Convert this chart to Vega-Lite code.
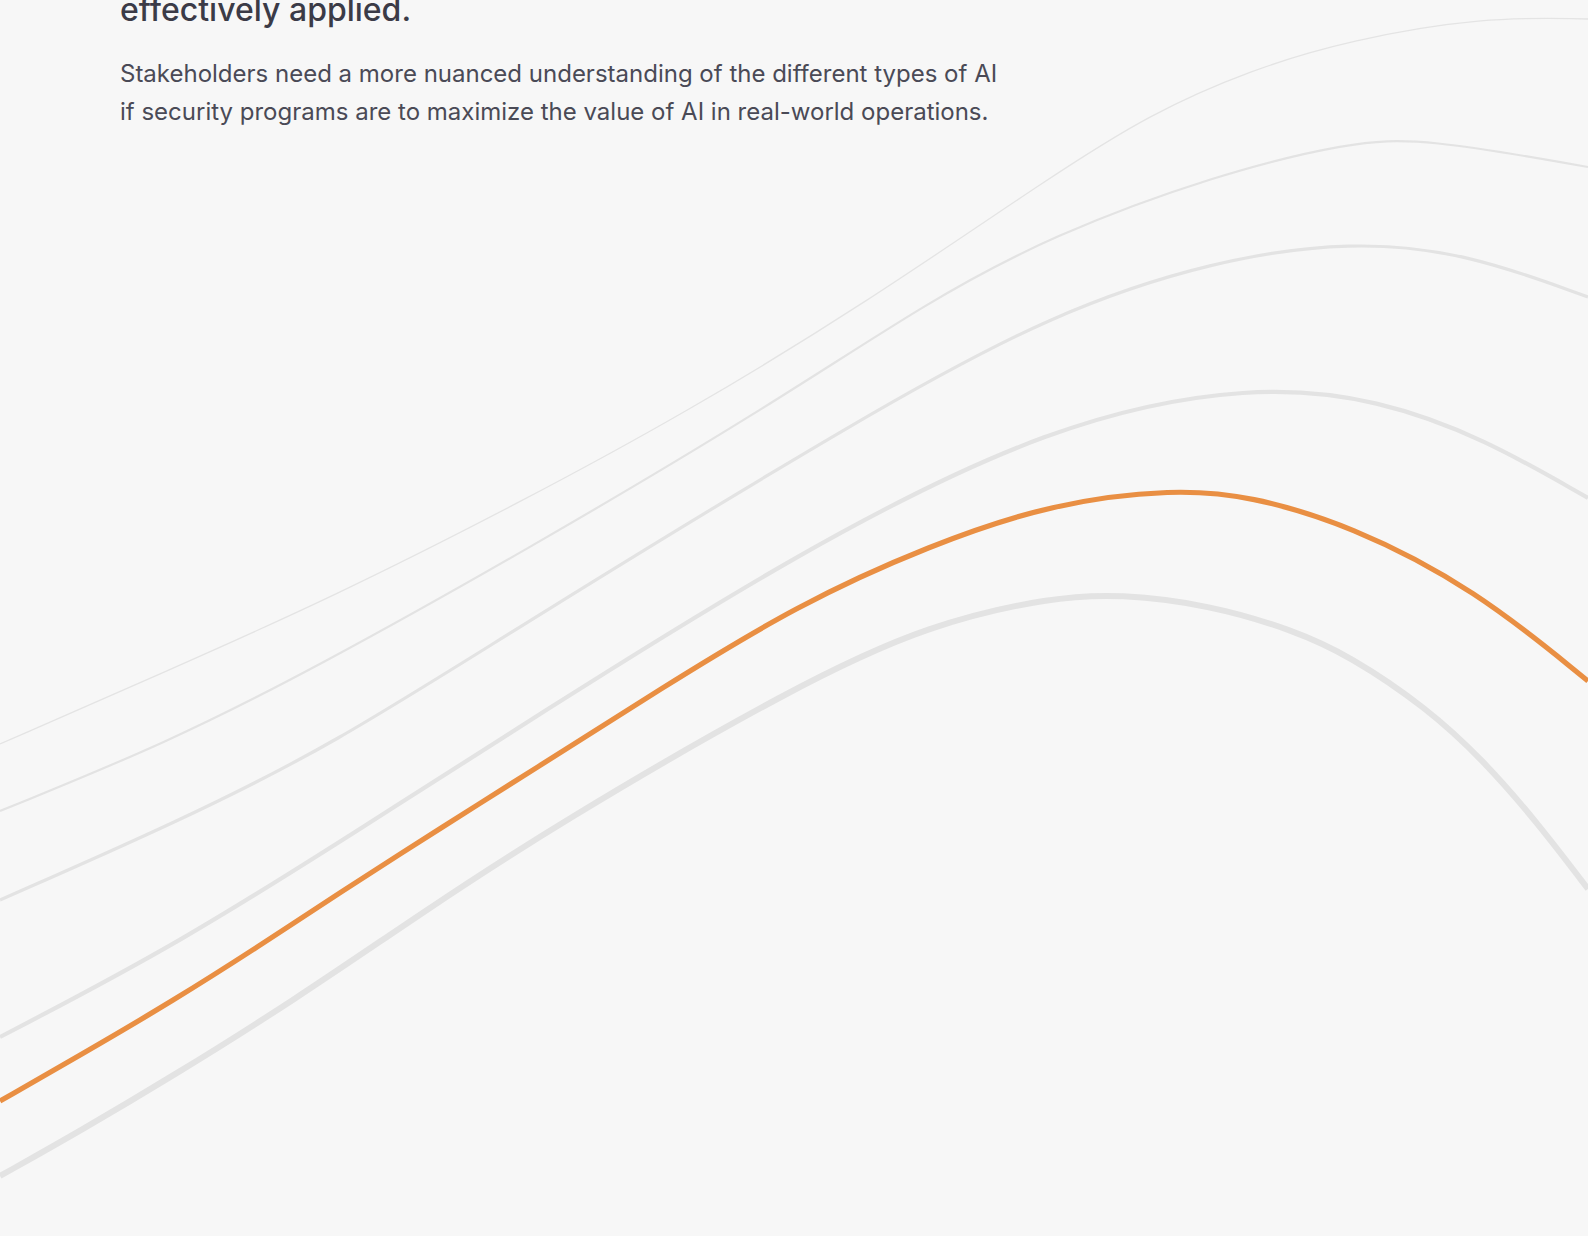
{
  "$schema": "https://vega.github.io/schema/vega-lite/v6.json",
  "width": 1588,
  "height": 1236,
  "autosize": {"type": "none"},
  "padding": 0,
  "background": "#f7f7f7",
  "config": {"view": {"stroke": null}},
  "datasets": {
    "curves": [
      {"curve": "c1", "x": 0, "y": 744}, {"curve": "c1", "x": 167, "y": 671}, {"curve": "c1", "x": 333, "y": 597}, {"curve": "c1", "x": 523, "y": 501}, {"curve": "c1", "x": 687, "y": 412}, {"curve": "c1", "x": 863, "y": 305}, {"curve": "c1", "x": 1053, "y": 175}, {"curve": "c1", "x": 1150, "y": 114}, {"curve": "c1", "x": 1250, "y": 70}, {"curve": "c1", "x": 1350, "y": 40}, {"curve": "c1", "x": 1483, "y": 17}, {"curve": "c1", "x": 1588, "y": 19},
      {"curve": "c2", "x": 0, "y": 811}, {"curve": "c2", "x": 167, "y": 743}, {"curve": "c2", "x": 317, "y": 667}, {"curve": "c2", "x": 523, "y": 552}, {"curve": "c2", "x": 760, "y": 412}, {"curve": "c2", "x": 930, "y": 300}, {"curve": "c2", "x": 1053, "y": 235}, {"curve": "c2", "x": 1215, "y": 175}, {"curve": "c2", "x": 1350, "y": 142}, {"curve": "c2", "x": 1423, "y": 138}, {"curve": "c2", "x": 1588, "y": 167},
      {"curve": "c3", "x": 0, "y": 900}, {"curve": "c3", "x": 173, "y": 824}, {"curve": "c3", "x": 333, "y": 745}, {"curve": "c3", "x": 523, "y": 624}, {"curve": "c3", "x": 870, "y": 412}, {"curve": "c3", "x": 1053, "y": 313}, {"curve": "c3", "x": 1215, "y": 260}, {"curve": "c3", "x": 1352, "y": 241}, {"curve": "c3", "x": 1467, "y": 253}, {"curve": "c3", "x": 1588, "y": 297},
      {"curve": "c4", "x": 0, "y": 1037}, {"curve": "c4", "x": 180, "y": 943}, {"curve": "c4", "x": 368, "y": 824}, {"curve": "c4", "x": 530, "y": 720}, {"curve": "c4", "x": 797, "y": 552}, {"curve": "c4", "x": 1053, "y": 422}, {"curve": "c4", "x": 1256, "y": 384}, {"curve": "c4", "x": 1380, "y": 400}, {"curve": "c4", "x": 1483, "y": 438}, {"curve": "c4", "x": 1588, "y": 498},
      {"curve": "c6", "x": 0, "y": 1176}, {"curve": "c6", "x": 80, "y": 1131}, {"curve": "c6", "x": 173, "y": 1076}, {"curve": "c6", "x": 293, "y": 1001}, {"curve": "c6", "x": 423, "y": 912}, {"curve": "c6", "x": 557, "y": 824}, {"curve": "c6", "x": 797, "y": 685}, {"curve": "c6", "x": 930, "y": 624}, {"curve": "c6", "x": 1053, "y": 597}, {"curve": "c6", "x": 1120, "y": 594}, {"curve": "c6", "x": 1210, "y": 605}, {"curve": "c6", "x": 1293, "y": 630}, {"curve": "c6", "x": 1350, "y": 656}, {"curve": "c6", "x": 1427, "y": 708}, {"curve": "c6", "x": 1483, "y": 760}, {"curve": "c6", "x": 1537, "y": 822}, {"curve": "c6", "x": 1588, "y": 889},
      {"curve": "orange", "x": 0, "y": 1101}, {"curve": "orange", "x": 77, "y": 1057}, {"curve": "orange", "x": 173, "y": 1001}, {"curve": "orange", "x": 267, "y": 941}, {"curve": "orange", "x": 333, "y": 897}, {"curve": "orange", "x": 447, "y": 824}, {"curve": "orange", "x": 530, "y": 772}, {"curve": "orange", "x": 660, "y": 689}, {"curve": "orange", "x": 797, "y": 605}, {"curve": "orange", "x": 930, "y": 545}, {"curve": "orange", "x": 1053, "y": 503}, {"curve": "orange", "x": 1175, "y": 489}, {"curve": "orange", "x": 1250, "y": 496}, {"curve": "orange", "x": 1350, "y": 525}, {"curve": "orange", "x": 1475, "y": 589}, {"curve": "orange", "x": 1588, "y": 681}
    ],
    "texts": [
      {"kind": "title", "x": 120, "y": 21, "text": "effectively applied."},
      {"kind": "body", "x": 120, "y": 82, "text": "Stakeholders need a more nuanced understanding of the different types of AI"},
      {"kind": "body", "x": 120, "y": 120, "text": "if security programs are to maximize the value of AI in real-world operations."}
    ]
  },
  "encoding": {
    "x": {"field": "x", "type": "quantitative", "scale": {"domain": [0, 1588], "nice": false, "zero": false}, "axis": null},
    "y": {"field": "y", "type": "quantitative", "scale": {"domain": [0, 1236], "nice": false, "zero": false, "reverse": true}, "axis": null}
  },
  "layer": [
    {
      "data": {"name": "curves"},
      "transform": [{"filter": "datum.curve === 'c1'"}],
      "mark": {"type": "line", "interpolate": "basis", "clip": true, "color": "#e4e4e4", "strokeWidth": 1.3}
    },
    {
      "data": {"name": "curves"},
      "transform": [{"filter": "datum.curve === 'c2'"}],
      "mark": {"type": "line", "interpolate": "basis", "clip": true, "color": "#e3e3e3", "strokeWidth": 2.2}
    },
    {
      "data": {"name": "curves"},
      "transform": [{"filter": "datum.curve === 'c3'"}],
      "mark": {"type": "line", "interpolate": "basis", "clip": true, "color": "#e3e3e3", "strokeWidth": 3.2}
    },
    {
      "data": {"name": "curves"},
      "transform": [{"filter": "datum.curve === 'c4'"}],
      "mark": {"type": "line", "interpolate": "basis", "clip": true, "color": "#e3e3e3", "strokeWidth": 4.2}
    },
    {
      "data": {"name": "curves"},
      "transform": [{"filter": "datum.curve === 'c6'"}],
      "mark": {"type": "line", "interpolate": "basis", "clip": true, "color": "#e3e3e3", "strokeWidth": 6}
    },
    {
      "data": {"name": "curves"},
      "transform": [{"filter": "datum.curve === 'orange'"}],
      "mark": {"type": "line", "interpolate": "basis", "clip": true, "color": "#e98f43", "strokeWidth": 5.2}
    },
    {
      "data": {"name": "texts"},
      "transform": [{"filter": "datum.kind === 'title'"}],
      "mark": {"type": "text", "align": "left", "baseline": "alphabetic", "font": "Inter", "fontSize": 32, "fontWeight": 500, "letterSpacing": -0.45, "color": "#3b3b47"},
      "encoding": {"text": {"field": "text"}}
    },
    {
      "data": {"name": "texts"},
      "transform": [{"filter": "datum.kind === 'body'"}],
      "mark": {"type": "text", "align": "left", "baseline": "alphabetic", "font": "Inter", "fontSize": 24, "fontWeight": 400, "letterSpacing": -0.38, "color": "#4a4a56"},
      "encoding": {"text": {"field": "text"}}
    }
  ]
}
